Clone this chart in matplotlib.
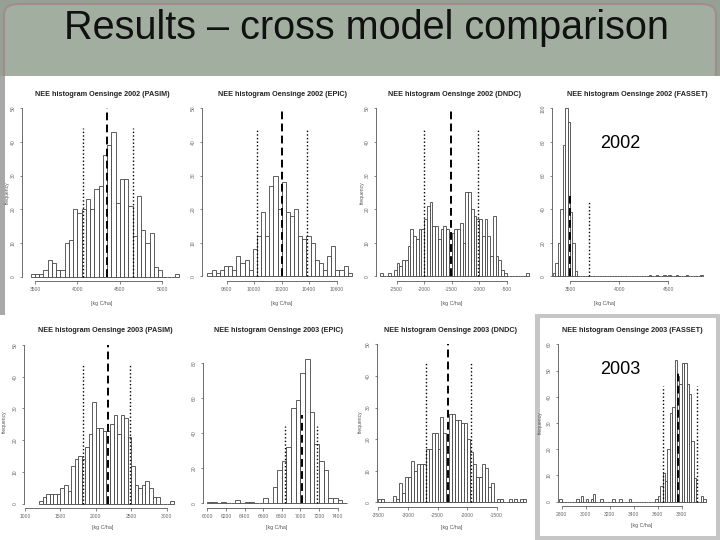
import numpy as np
import matplotlib
matplotlib.use("Agg")
import matplotlib.pyplot as plt
from matplotlib.patches import Rectangle, FancyBboxPatch

plt.rcParams['font.family'] = ['Liberation Sans', 'DejaVu Sans']

W, H = 720, 540

# ---- histogram counts (bin start, bin width, counts) ----
# mean and mean +/- sd lines: [low, mean, high]

pasim02_start, pasim02_width = 3450, 50
pasim02_counts = [1, 1, 1, 2, 5, 4, 2, 2, 10, 11, 20, 19, 20, 23, 20, 26, 27, 36, 39, 43,
                  22, 29, 29, 21, 12, 24, 14, 10, 13, 3, 2, 0, 0, 0, 1]
pasim02_lines = [4063, 4346, 4653]
pasim02_xticks = [3500, 4000, 4500, 5000]
pasim02_yticks = [0, 10, 20, 30, 40, 50]

epic02_start, epic02_width = 9660, 30
epic02_counts = [1, 2, 1, 2, 3, 3, 2, 6, 4, 5, 2, 8, 12, 19, 12, 27, 30, 20, 28, 19,
                 18, 20, 12, 11, 12, 10, 5, 4, 2, 6, 9, 2, 2, 3, 1]
epic02_lines = [10024, 10200, 10382]
epic02_xticks = [9800, 10000, 10200, 10400, 10600]
epic02_yticks = [0, 10, 20, 30, 40, 50]

dndc02_start, dndc02_width = -2800, 50
dndc02_counts = [1, 0, 0, 1, 0, 2, 4, 3, 5, 5, 9, 14, 12, 11, 14, 14, 17, 21, 22, 15,
                 15, 11, 14, 15, 14, 13, 13, 14, 14, 16, 10, 25, 25, 20, 18, 17, 17, 12, 17, 12,
                 6, 18, 6, 5, 2, 1, 0, 0, 0, 0, 0, 0, 0, 1]
dndc02_lines = [-2010, -1510, -1015]
dndc02_xticks = [-2500, -2000, -1500, -1000, -500]
dndc02_yticks = [0, 10, 20, 30, 40, 50]

fasset02_start, fasset02_width = 3325, 25
fasset02_counts = [2, 8, 20, 40, 78, 100, 92, 38, 20, 3,
                   0, 0, 0, 0, 0, 0, 0, 0, 0, 0,
                   0, 0, 0, 0, 0, 0, 0, 0, 0, 0,
                   0, 0, 0, 0, 0, 0, 0, 0, 0, 1,
                   0, 0, 1, 0, 0, 1, 0, 1, 0, 0,
                   1, 0, 0, 0, 1, 0, 0, 0, 0, 0, 1]
fasset02_lines = [3309, 3503, 3697]
fasset02_xticks = [3500, 4000, 4500]
fasset02_yticks = [0, 20, 40, 60, 80, 100]

pasim03_start, pasim03_width = 1200, 50
pasim03_counts = [1, 2, 3, 3, 3, 3, 5, 6, 4, 12, 14, 15, 14, 18, 22, 32, 24, 24, 23, 23,
                  25, 28, 22, 28, 27, 21, 12, 6, 5, 6, 7, 5, 2, 2, 0, 0, 0, 1]
pasim03_lines = [1825, 2165, 2486]
pasim03_xticks = [1000, 1500, 2000, 2500, 3000]
pasim03_yticks = [0, 10, 20, 30, 40, 50]

epic03_start, epic03_width = 6000, 50
epic03_counts = [1, 1, 0, 1, 0, 0, 2, 0, 1, 1, 0, 0, 3, 0, 9, 19, 24, 32, 54, 59,
                 74, 82, 52, 34, 24, 19, 3, 3, 2, 0]
epic03_lines = [6836, 7018, 7182]
epic03_xticks = [6000, 6200, 6400, 6600, 6800, 7000, 7200, 7400]
epic03_yticks = [0, 20, 40, 60, 80]

dndc03_start, dndc03_width = -3500, 50
dndc03_counts = [1, 1, 0, 0, 0, 2, 1, 6, 3, 8, 8, 13, 10, 12, 12, 12, 17, 17, 22, 22,
                 17, 27, 22, 14, 28, 28, 26, 26, 25, 25, 20, 16, 12, 8, 8, 12, 11, 5, 6, 0,
                 1, 1, 0, 0, 1, 0, 1, 0, 1, 1]
dndc03_lines = [-2694, -2317, -1934]
dndc03_xticks = [-3500, -3000, -2500, -2000, -1500]
dndc03_yticks = [0, 10, 20, 30, 40, 50]

fasset03_start, fasset03_width = 2780, 20
fasset03_counts = [1, 0, 0, 0, 0, 0, 0, 1, 0, 2,
                   0, 1, 0, 1, 3, 0, 0, 1, 0, 0,
                   0, 0, 1, 0, 0, 1, 0, 0, 0, 1,
                   0, 0, 0, 0, 0, 0, 0, 0, 0, 0,
                   1, 2, 6, 11, 8, 20, 34, 36, 54, 48,
                   45, 53, 53, 45, 41, 23, 9, 0, 0, 2, 1]
fasset03_lines = [3642, 3772, 3931]
fasset03_xticks = [2800, 3000, 3200, 3400, 3600, 3800]
fasset03_yticks = [0, 10, 20, 30, 40, 50, 60]


def fig_box(box):
    l, r, t, b = box
    return [l / W, 1 - b / H, (r - l) / W, (b - t) / H]


def lin(ref, p):
    (p1, v1), (p2, v2) = ref
    return v1 + (p - p1) * (v2 - v1) / (p2 - p1)


def ftext(x, y, s, **kw):
    fig.text(x / W, 1 - y / H, s, ha="center", va="center", **kw)


def panel(title, box, xref, yref, start, width, counts, lines, xticks, yticks,
          title_xy, xlab_xy, ylab_xy=None):
    ax = fig.add_axes(fig_box(box))
    ax.set_facecolor("none")
    edges = start + width * np.arange(len(counts))
    ax.bar(edges, counts, width=width, align="edge", facecolor="white",
           edgecolor="#444444", linewidth=0.6)
    lo, mean, hi = lines
    ax.vlines([lo, hi], 0, 44, colors="black", linestyles=(0, (1, 1.6)), linewidth=1.0)
    ax.vlines(mean, 0, 50, colors="black", linestyles=(0, (4, 2.2)), linewidth=1.4)

    l, r, t, b = box
    ax.set_xlim(lin(xref, l), lin(xref, r))
    ax.set_ylim(lin(yref, b), lin(yref, t))

    for side in ["top", "right"]:
        ax.spines[side].set_visible(False)
    for side in ["left", "bottom"]:
        ax.spines[side].set_color("#555555")
        ax.spines[side].set_linewidth(0.6)
    ax.spines["left"].set_bounds(yticks[0], yticks[-1])
    ax.spines["bottom"].set_bounds(xticks[0], xticks[-1])

    ax.set_xticks(xticks)
    ax.set_xticklabels([str(v) for v in xticks])
    ax.set_yticks(yticks)
    ax.set_yticklabels([str(v) for v in yticks], rotation=90, va="center")
    ax.tick_params(length=1.8, width=0.5, color="#555555", labelsize=3.6,
                   labelcolor="#666666", pad=2.5)

    ftext(*title_xy, title, fontsize=5.2, fontweight="bold", color="#222222")
    ftext(*xlab_xy, "[kg C/ha]", fontsize=3.8, color="#555555")
    if ylab_xy is not None:
        ftext(*ylab_xy, "frequency", fontsize=3.6, color="#555555", rotation=90)
    return ax


fig = plt.figure(figsize=(7.2, 5.4), dpi=100, facecolor="white")

# slide background: title band, grey strip and frame
fig.add_artist(Rectangle((0, 1 - 76 / H), 1, 76 / H, transform=fig.transFigure,
                         facecolor="#95a195", edgecolor="none", zorder=-3))
fig.add_artist(FancyBboxPatch((4 / W, 1 - 110 / H), 712 / W, 106 / H,
                              boxstyle="round,pad=0,rounding_size=0.02",
                              transform=fig.transFigure, facecolor="#a2ae9f",
                              edgecolor="#a58c8c", linewidth=1.5, zorder=-2))
fig.add_artist(Rectangle((0, 1 - 540 / H), 1, 464 / H, transform=fig.transFigure,
                         facecolor="white", edgecolor="none", zorder=-1))
fig.add_artist(Rectangle((0, 1 - 315 / H), 5 / W, 239 / H, transform=fig.transFigure,
                         facecolor="#a8a8a8", edgecolor="none", zorder=-0.5))
fig.add_artist(Rectangle((535 / W, 0), 185 / W, 226 / H, transform=fig.transFigure,
                         facecolor="#c6c6c6", edgecolor="none", zorder=-0.5))
fig.add_artist(Rectangle((540 / W, 4 / H), 176 / W, 218 / H, transform=fig.transFigure,
                         facecolor="white", edgecolor="none", zorder=-0.4))

ftext(366, 28, "Results \u2013 cross model comparison", fontsize=28.5, color="#111111")

panel("NEE histogram Oensinge 2002 (PASIM)", (22, 180, 104, 281),
      ((35, 3500), (162.3, 5000)), ((277, 0), (108, 50)),
      pasim02_start, pasim02_width, pasim02_counts, pasim02_lines,
      pasim02_xticks, pasim02_yticks, (102, 94), (102, 304), (7, 193))

panel("NEE histogram Oensinge 2002 (EPIC)", (202, 356, 104, 281),
      ((226.7, 9800), (336.7, 10600)), ((276.3, 0), (108.3, 50)),
      epic02_start, epic02_width, epic02_counts, epic02_lines,
      epic02_xticks, epic02_yticks, (282, 94), (282, 304))

panel("NEE histogram Oensinge 2002 (DNDC)", (376, 530, 104, 281),
      ((396.7, -2500), (506.7, -500)), ((276.3, 0), (108.3, 50)),
      dndc02_start, dndc02_width, dndc02_counts, dndc02_lines,
      dndc02_xticks, dndc02_yticks, (455, 94), (452, 304), (362, 193))

panel("NEE histogram Oensinge 2002 (FASSET)", (552, 706, 104, 281),
      ((570, 3500), (668.3, 4500)), ((276.3, 0), (108.3, 100)),
      fasset02_start, fasset02_width, fasset02_counts, fasset02_lines,
      fasset02_xticks, fasset02_yticks, (637, 94), (605, 304))

panel("NEE histogram Oensinge 2003 (PASIM)", (24, 178, 341, 508),
      ((25, 1000), (166.7, 3000)), ((503.7, 0), (345, 50)),
      pasim03_start, pasim03_width, pasim03_counts, pasim03_lines,
      pasim03_xticks, pasim03_yticks, (105, 330), (103, 528), (4, 422))

panel("NEE histogram Oensinge 2003 (EPIC)", (203, 350, 355, 508),
      ((207.3, 6000), (337.7, 7400)), ((503.3, 0), (362.7, 80)),
      epic03_start, epic03_width, epic03_counts, epic03_lines,
      epic03_xticks, epic03_yticks, (278, 330), (277, 527))

panel("NEE histogram Oensinge 2003 (DNDC)", (377, 528, 340, 507),
      ((378.3, -3500), (496.7, -1500)), ((502.3, 0), (344.3, 50)),
      dndc03_start, dndc03_width, dndc03_counts, dndc03_lines,
      dndc03_xticks, dndc03_yticks, (451, 330), (452, 527), (360, 422))

panel("NEE histogram Oensinge 2003 (FASSET)", (558, 710, 340, 506),
      ((561.7, 2800), (681.7, 3800)), ((501.7, 0), (344.3, 60)),
      fasset03_start, fasset03_width, fasset03_counts, fasset03_lines,
      fasset03_xticks, fasset03_yticks, (632, 330), (642, 526), (540, 423))

ftext(620, 143, "2002", fontsize=13, color="black")
ftext(620, 370, "2003", fontsize=13, color="black")

fig.savefig("out.png", dpi=100)
